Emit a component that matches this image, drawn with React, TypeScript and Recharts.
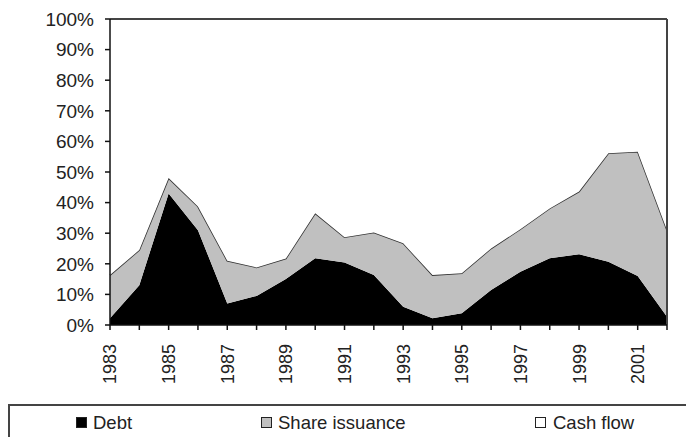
import { AreaChart, Area, XAxis, YAxis, ReferenceLine } from 'recharts';

const years = [1983, 1984, 1985, 1986, 1987, 1988, 1989, 1990, 1991, 1992, 1993, 1994, 1995, 1996, 1997, 1998, 1999, 2000, 2001, 2002];
// share of financing, percent
const debt = [2.2, 13, 43, 31, 7, 9.5, 15, 21.8, 20.4, 16.3, 6, 2.2, 3.8, 11.4, 17.4, 21.8, 23.1, 20.7, 16, 2.7];
const shareIssuance = [14.1, 11.5, 5, 7.7, 14, 9.3, 6.7, 14.7, 8.3, 13.9, 20.7, 14.1, 13.1, 13.6, 13.9, 16.3, 20.5, 35.4, 40.6, 28.3];
const yTicks = [0, 10, 20, 30, 40, 50, 60, 70, 80, 90, 100];

const data = years.map((year, i) => ({
  year,
  debt: debt[i],
  share: shareIssuance[i],
  cash: 100 - debt[i] - shareIssuance[i],
}));

const font = 'Liberation Sans, Arial, sans-serif';

const YTick = (props: any) => {
  const { x, y, payload } = props;
  return (
    <text x={x} y={y} dy="0.36em" textAnchor="end" fontSize={19} fontFamily={font} fill="#222">
      {payload.value}%
    </text>
  );
};

const XTick = (props: any) => {
  const { x, y, payload } = props;
  if (payload.value % 2 === 0) return null;
  return (
    <g transform={`translate(${x},${y + 12}) rotate(-90)`}>
      <text x={0} y={0} dy="0.36em" textAnchor="end" fontSize={18} fontFamily={font} fill="#222">
        {payload.value}
      </text>
    </g>
  );
};

const Swatch = ({ color, left }: { color: string; left: number }) => (
  <span
    style={{
      position: 'absolute',
      left,
      top: 11,
      width: 9,
      height: 9,
      background: color,
      border: '1px solid #222',
    }}
  />
);

export default function App() {
  return (
    <div style={{ position: 'absolute', left: 0, top: 0, width: 686, height: 437, background: '#fff', overflow: 'hidden' }}>
      <AreaChart width={686} height={400} data={data} margin={{ top: 19, right: 19, bottom: 0, left: 0 }}>
        <XAxis
          dataKey="year"
          type="number"
          domain={[1983, 2002]}
          ticks={years}
          interval={0}
          height={75}
          tick={<XTick />}
          tickSize={5}
          axisLine={{ stroke: '#111', strokeWidth: 1.5 }}
          tickLine={{ stroke: '#111', strokeWidth: 1.5 }}
        />
        <YAxis
          domain={[0, 100]}
          ticks={yTicks}
          width={110}
          tick={<YTick />}
          tickSize={5}
          tickMargin={11}
          axisLine={{ stroke: '#111', strokeWidth: 1.5 }}
          tickLine={{ stroke: '#111', strokeWidth: 1.5 }}
        />
        <Area type="linear" dataKey="debt" stackId="a" fill="#000" fillOpacity={1} stroke="none" isAnimationActive={false} />
        <Area type="linear" dataKey="share" stackId="a" fill="#c0c0c0" fillOpacity={1} stroke="#333" strokeWidth={1.5} isAnimationActive={false} />
        <Area type="linear" dataKey="cash" stackId="a" fill="#fff" fillOpacity={1} stroke="none" isAnimationActive={false} />
        <ReferenceLine y={100} stroke="#444" strokeWidth={2} />
        <ReferenceLine x={2002} stroke="#444" strokeWidth={2} />
      </AreaChart>
      <div
        style={{
          position: 'absolute',
          left: 8,
          top: 404,
          width: 700,
          height: 60,
          border: '2px solid #444',
          fontFamily: font,
          fontSize: 18.5,
          color: '#222',
        }}
      >
        <Swatch color="#000" left={66} />
        <span style={{ position: 'absolute', left: 83, top: 6 }}>Debt</span>
        <Swatch color="#c0c0c0" left={251} />
        <span style={{ position: 'absolute', left: 268, top: 6 }}>Share issuance</span>
        <Swatch color="#fff" left={525} />
        <span style={{ position: 'absolute', left: 543, top: 6 }}>Cash flow</span>
      </div>
    </div>
  );
}
